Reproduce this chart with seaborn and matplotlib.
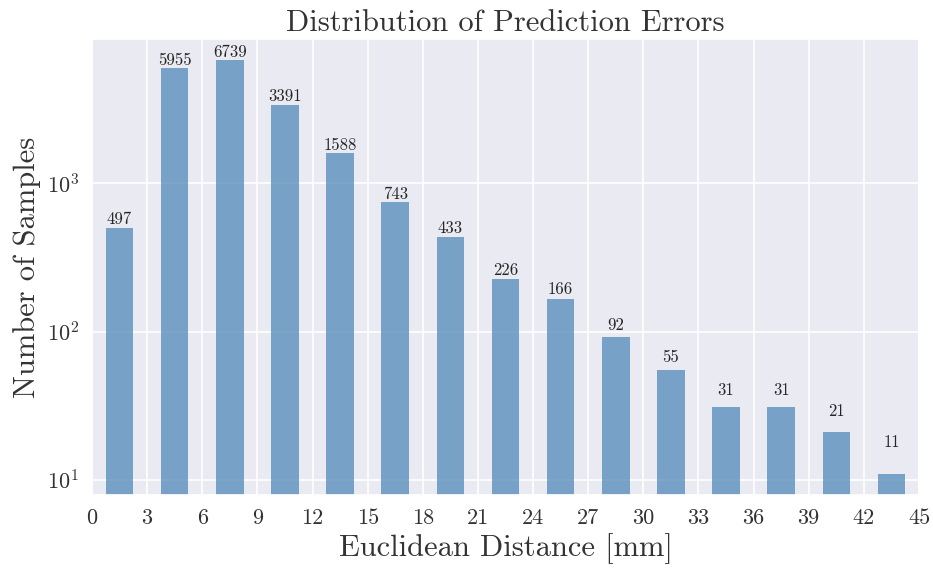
import numpy as np
import matplotlib
matplotlib.use("Agg")
import matplotlib.pyplot as plt
import seaborn as sns

# Histogram of Euclidean prediction errors (3 mm bins)
bin_edges = [0, 3, 6, 9, 12, 15, 18, 21, 24, 27, 30, 33, 36, 39, 42, 45]
counts = [497, 5955, 6739, 3391, 1588, 743, 433, 226, 166, 92, 55, 31, 31, 21, 11]
xticks = list(range(0, 46, 3))

sns.set_theme(style="darkgrid")
plt.rcParams["font.family"] = ["cmr10", "DejaVu Serif"]
plt.rcParams["mathtext.fontset"] = "cm"
plt.rcParams["axes.formatter.use_mathtext"] = True
plt.rcParams["axes.unicode_minus"] = False

edges = np.array(bin_edges, dtype=float)
centers = (edges[:-1] + edges[1:]) / 2

fig, ax = plt.subplots(figsize=(9.33, 5.72), dpi=100)
fig.subplots_adjust(left=0.0986, right=0.985, top=0.932, bottom=0.1346)

sns.barplot(x=centers, y=counts, native_scale=True, width=0.5,
            color="steelblue", alpha=0.7, saturation=1, linewidth=0, ax=ax)
ax.set_yscale("log")

# count annotations slightly above each bar
for patch, v in zip(ax.patches, counts):
    ax.text(patch.get_x() + patch.get_width() / 2, v * 1.05 + 5, str(v),
            ha="center", va="baseline", fontsize=12, color="#262626")

ax.set_xlim(0, 45)
ax.set_ylim(7.9, 9400)
ax.set_xticks(xticks)
ax.set_xticklabels([str(t) for t in xticks])
ax.tick_params(axis="both", labelsize=16, colors="#333333")
ax.minorticks_off()
ax.grid(True, which="major", color="white", linewidth=1.2)

ax.set_title("Distribution of Prediction Errors", fontsize=22, color="#333333")
ax.set_xlabel("Euclidean Distance [mm]", fontsize=22, color="#333333", labelpad=4)
ax.set_ylabel("Number of Samples", fontsize=22, color="#333333")

fig.savefig("out.png", dpi=100)
